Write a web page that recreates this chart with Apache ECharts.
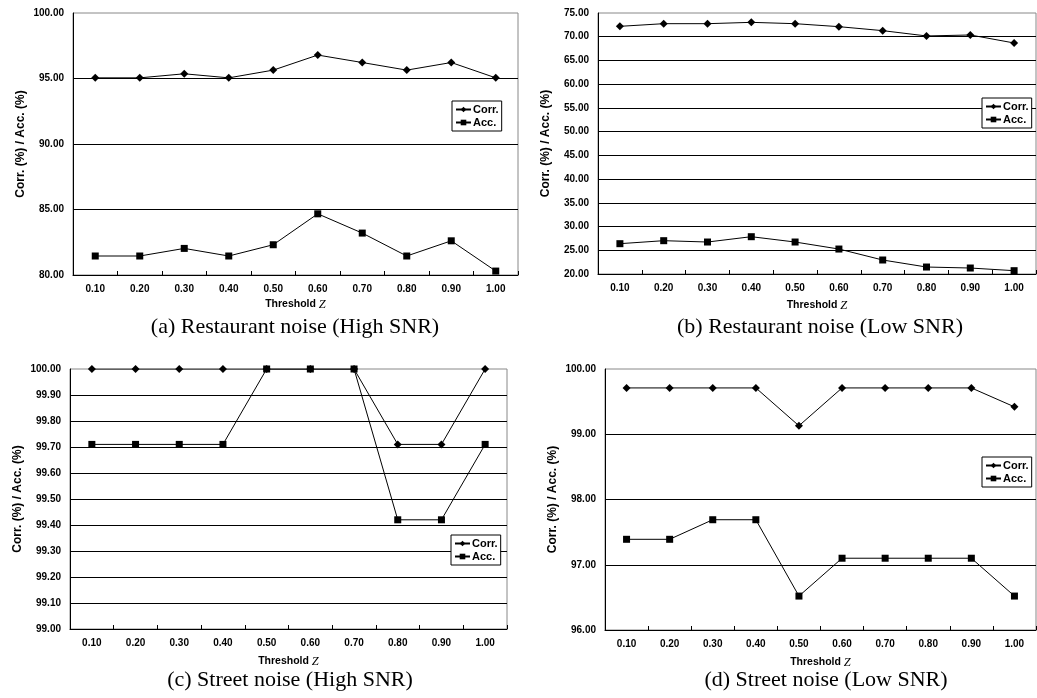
<!DOCTYPE html>
<html>
<head>
<meta charset="utf-8">
<script src="https://cdn.jsdelivr.net/npm/echarts@6/dist/echarts.min.js"></script>
<style>html,body{margin:0;padding:0;background:#fff;}#c{width:1037px;height:698px;}</style>
</head>
<body>
<div id="c"></div>
<script>
const categories = ['0.10','0.20','0.30','0.40','0.50','0.60','0.70','0.80','0.90','1.00'];

const corrA = [95.05, 95.05, 95.36, 95.05, 95.64, 96.79, 96.22, 95.64, 96.22, 95.05];
const accA  = [81.45, 81.45, 82.03, 81.45, 82.31, 84.67, 83.20, 81.45, 82.61, 80.30];

const corrB = [72.19, 72.75, 72.75, 73.03, 72.75, 72.12, 71.28, 70.16, 70.37, 68.68];
const accB  = [26.39, 27.02, 26.74, 27.86, 26.74, 25.26, 22.95, 21.47, 21.26, 20.70];

const corrC = [100.00, 100.00, 100.00, 100.00, 100.00, 100.00, 100.00, 99.71, 99.71, 100.00];
const accC  = [99.71, 99.71, 99.71, 99.71, 100.00, 100.00, 100.00, 99.42, 99.42, 99.71];

const corrD = [99.71, 99.71, 99.71, 99.71, 99.13, 99.71, 99.71, 99.71, 99.71, 99.42];
const accD  = [97.39, 97.39, 97.69, 97.69, 96.52, 97.10, 97.10, 97.10, 97.10, 96.52];

const yRanges = [
  {min: 80, max: 100, interval: 5},
  {min: 20, max: 75, interval: 5},
  {min: 99, max: 100, interval: 0.1},
  {min: 96, max: 100, interval: 1}
];

const captions = [
  '(a) Restaurant noise (High SNR)',
  '(b) Restaurant noise (Low SNR)',
  '(c) Street noise (High SNR)',
  '(d) Street noise (Low SNR)'
];

const seriesNames = ['Corr.', 'Acc.'];
const panelData = [[corrA, accA], [corrB, accB], [corrC, accC], [corrD, accD]];

// layout
const grids = [
  {left: 73, top: 13, width: 445, height: 262},
  {left: 598, top: 13, width: 438, height: 261},
  {left: 70, top: 369, width: 437, height: 260},
  {left: 605, top: 369, width: 431, height: 261}
];
const xNameGaps = [23, 25, 26, 26];
const legendPos = [
  {left: 452, top: 101},
  {left: 982, top: 98},
  {left: 451, top: 535},
  {left: 982, top: 457}
];
const captionPos = [[295, 327], [820, 327], [290, 680], [826, 680]];

const labelFont = {fontFamily: 'Liberation Sans, Arial, sans-serif', fontWeight: 'bold', fontSize: 10, color: '#000'};

const option = {
  animation: false,
  backgroundColor: '#fff',
  grid: grids.map(g => Object.assign({show: true, borderColor: '#888', borderWidth: 1, backgroundColor: 'transparent', containLabel: false}, g)),
  xAxis: grids.map((g, i) => ({
    type: 'category',
    gridIndex: i,
    data: categories,
    boundaryGap: true,
    axisLine: {lineStyle: {color: '#000', width: 1}},
    axisTick: {show: true, inside: true, length: 4, lineStyle: {color: '#000'}},
    axisLabel: Object.assign({margin: 9}, labelFont),
    splitLine: {show: false},
    name: '{b|Threshold }{i|Z}',
    nameLocation: 'middle',
    nameGap: xNameGaps[i],
    nameTextStyle: {
      rich: {
        b: {fontFamily: 'Liberation Sans, Arial, sans-serif', fontWeight: 'bold', fontSize: 10.5, color: '#000'},
        i: {fontFamily: 'Liberation Serif, Times New Roman, serif', fontStyle: 'italic', fontSize: 12.5, color: '#000'}
      }
    }
  })),
  yAxis: grids.map((g, i) => ({
    type: 'value',
    gridIndex: i,
    min: yRanges[i].min,
    max: yRanges[i].max,
    interval: yRanges[i].interval,
    axisLine: {show: true, lineStyle: {color: '#000', width: 1}},
    axisTick: {show: false},
    axisLabel: Object.assign({margin: 9, formatter: v => v.toFixed(2)}, labelFont),
    splitLine: {show: true, showMaxLine: false, lineStyle: {color: '#000', width: 1}},
    name: 'Corr. (%) / Acc. (%)',
    nameLocation: 'middle',
    nameGap: 46,
    nameTextStyle: {fontFamily: 'Liberation Sans, Arial, sans-serif', fontWeight: 'bold', fontSize: 12, color: '#000'}
  })),
  legend: legendPos.map((p, i) => ({
    left: p.left,
    top: p.top,
    orient: 'vertical',
    data: seriesNames.map(n => n + (i ? '\u200b'.repeat(i) : '')),
    backgroundColor: '#fff',
    borderColor: '#000',
    borderWidth: 1,
    padding: [3, 3, 3, 3],
    itemGap: 2,
    itemWidth: 15,
    itemHeight: 7,
    itemStyle: {color: '#000'},
    textStyle: {fontFamily: 'Liberation Sans, Arial, sans-serif', fontWeight: 'bold', fontSize: 11, color: '#000', padding: [0, 0, 0, -3]},
    selectedMode: false
  })),
  series: [],
  graphic: captions.map((t, i) => ({
    type: 'text',
    x: captionPos[i][0],
    y: captionPos[i][1],
    style: {
      text: t,
      fill: '#000',
      font: '22px "Liberation Serif", "Times New Roman", serif',
      textAlign: 'center',
      textVerticalAlign: 'middle'
    }
  }))
};

panelData.forEach((pair, i) => {
  pair.forEach((vals, k) => {
    option.series.push({
      type: 'line',
      name: seriesNames[k] + (i ? '\u200b'.repeat(i) : ''),
      xAxisIndex: i,
      yAxisIndex: i,
      data: vals,
      symbol: k === 0 ? 'diamond' : 'rect',
      symbolSize: k === 0 ? 8 : 7,
      lineStyle: {color: '#000', width: 1},
      itemStyle: {color: '#000'},
      z: 3 + k
    });
  });
});

const chart = echarts.init(document.getElementById('c'), null, {renderer: 'canvas'});
chart.setOption(option);
</script>
</body>
</html>
